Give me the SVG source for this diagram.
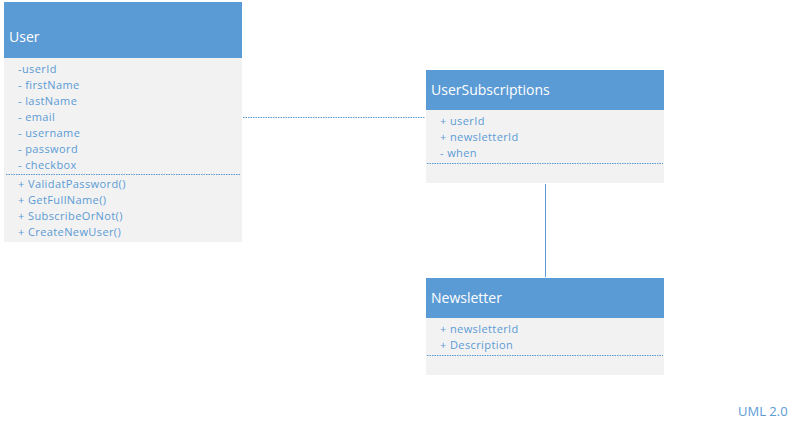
<svg xmlns="http://www.w3.org/2000/svg" width="800" height="430" viewBox="0 0 800 430">
<style>
.hdr{fill:#5b9bd5}
.body{fill:#f2f2f2}
.title{font-family:"Open Sans","Liberation Sans",sans-serif;font-size:14px;fill:#ffffff}
.item{font-family:"Open Sans","Liberation Sans",sans-serif;font-size:11px;letter-spacing:0.4px;fill:#5b9bd5}
.sep{stroke:#5b9bd5;stroke-width:1;stroke-dasharray:1.5 1}
.conn{stroke:#5b9bd5;stroke-width:1;fill:none}
</style>
<rect width="800" height="430" fill="#ffffff"/>
<g id="User">
<rect class="body" x="4" y="58" width="238" height="184"/>
<rect class="hdr" x="4" y="2" width="238" height="56"/>
<text class="title" x="9" y="42">User</text>
<text class="item" x="18" y="73">-userId</text>
<text class="item" x="18" y="89">- firstName</text>
<text class="item" x="18" y="105">- lastName</text>
<text class="item" x="18" y="121">- email</text>
<text class="item" x="18" y="137">- username</text>
<text class="item" x="18" y="153">- password</text>
<text class="item" x="18" y="169">- checkbox</text>
<line class="sep" x1="6" y1="174.5" x2="240" y2="174.5"/>
<text class="item" x="18" y="188">+ ValidatPassword()</text>
<text class="item" x="18" y="204">+ GetFullName()</text>
<text class="item" x="18" y="220">+ SubscribeOrNot()</text>
<text class="item" x="18" y="236">+ CreateNewUser()</text>
</g>
<g id="UserSubscriptions">
<rect class="body" x="426" y="110" width="238" height="73"/>
<rect class="hdr" x="426" y="70" width="238" height="40"/>
<text class="title" x="431" y="95">UserSubscriptions</text>
<text class="item" x="440" y="125">+ userId</text>
<text class="item" x="440" y="141">+ newsletterId</text>
<text class="item" x="440" y="157">- when</text>
<line class="sep" x1="427" y1="163.5" x2="663" y2="163.5"/>
</g>
<g id="Newsletter">
<rect class="body" x="426" y="318" width="238" height="57"/>
<rect class="hdr" x="426" y="278" width="238" height="40"/>
<text class="title" x="431" y="303">Newsletter</text>
<text class="item" x="440" y="333">+ newsletterId</text>
<text class="item" x="440" y="349">+ Description</text>
<line class="sep" x1="427" y1="355.5" x2="663" y2="355.5"/>
</g>
<g id="connectors">
<line class="conn" x1="243" y1="117.5" x2="425" y2="117.5" stroke-dasharray="1.5 1"/>
<line class="conn" x1="545.5" y1="184" x2="545.5" y2="277"/>
</g>
<text x="738" y="416" font-family="Open Sans, Liberation Sans, sans-serif" font-size="13" fill="#5b9bd5">UML 2.0</text>
</svg>
